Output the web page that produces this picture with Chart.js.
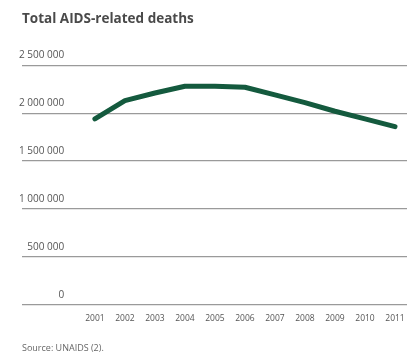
<!DOCTYPE html>
<html>
<head>
<meta charset="utf-8">
<script src="https://cdn.jsdelivr.net/npm/chart.js@4/dist/chart.umd.min.js"></script>
<style>
  html, body { margin: 0; padding: 0; background: #fff; }
  #wrap { width: 407px; height: 354px; position: relative; }
</style>
</head>
<body>
<div id="wrap"><canvas id="deathsChart"></canvas></div>
<script>
// Total AIDS-related deaths, 2001-2011
const years = [2001, 2002, 2003, 2004, 2005, 2006, 2007, 2008, 2009, 2010, 2011];
const deaths = [1940000, 2130000, 2210000, 2280000, 2280000, 2270000, 2190000, 2110000, 2020000, 1940000, 1860000];
const yTicks = [0, 500000, 1000000, 1500000, 2000000, 2500000];

const FONT = "'Open Sans', sans-serif";
const LINE_GREEN = '#145a3e';

function spaced(v) {
    return String(v).replace(/\B(?=(\d{3})+(?!\d))/g, ' ');
}

const ctx = document.getElementById('deathsChart').getContext('2d');
new Chart(ctx, {
    type: 'line',
    data: {
        datasets: [{
            data: years.map((y, i) => ({ x: y, y: deaths[i] })),
            borderColor: LINE_GREEN,
            borderWidth: 5,
            borderCapStyle: 'round',
            borderJoinStyle: 'round',
            pointRadius: 0,
            tension: 0,
            fill: false
        }]
    },
    options: {
        responsive: true,
        maintainAspectRatio: false,
        animation: false,
        layout: { padding: { left: 22, right: 0, top: 11, bottom: 0 } },
        plugins: {
            legend: { display: false },
            tooltip: { enabled: false },
            title: {
                display: true,
                text: 'Total AIDS-related deaths',
                align: 'start',
                color: '#4a4a4a',
                font: { family: FONT, size: 13.5, weight: 'bold' },
                padding: { top: 0, bottom: 38 }
            },
            subtitle: {
                display: true,
                position: 'bottom',
                text: 'Source: UNAIDS (2).',
                align: 'start',
                color: '#666',
                font: { family: FONT, size: 9 },
                padding: { top: 20, bottom: 0 }
            }
        },
        scales: {
            x: {
                type: 'linear',
                min: 1998.57,
                max: 2011.4,
                afterBuildTicks: (scale) => { scale.ticks = years.map(v => ({ value: v })); },
                grid: { display: false },
                border: { display: false },
                ticks: {
                    color: '#555',
                    font: { family: FONT, size: 8.5 },
                    padding: 0,
                    maxRotation: 0,
                    autoSkip: false,
                    callback: (v) => String(v)
                }
            },
            y: {
                min: 0,
                max: 2500000,
                afterBuildTicks: (scale) => { scale.ticks = yTicks.map(v => ({ value: v })); },
                grid: { color: '#9a9a9a', lineWidth: 1.3, drawTicks: false },
                border: { display: false },
                ticks: {
                    mirror: true,
                    crossAlign: 'far',
                    padding: -1,
                    labelOffset: -10,
                    color: '#555',
                    font: { family: FONT, size: 10 },
                    callback: (v) => spaced(v)
                }
            }
        }
    }
});
</script>
</body>
</html>
